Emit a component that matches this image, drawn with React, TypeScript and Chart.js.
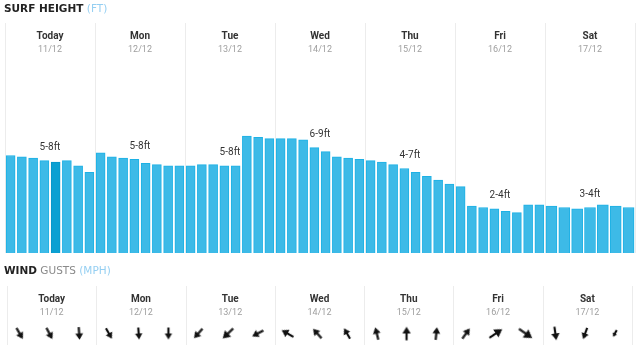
import React, { useEffect, useRef } from "react";
import { Chart, registerables } from "chart.js";

Chart.register(...registerables);

const days = ["Today", "Mon", "Tue", "Wed", "Thu", "Fri", "Sat"];
const dates = ["11/12", "12/12", "13/12", "14/12", "15/12", "16/12", "17/12"];
const rangeLabels = ["5-8ft", "5-8ft", "5-8ft", "6-9ft", "4-7ft", "2-4ft", "3-4ft"];

// surf height (ft), 3-hourly per day
const surfToday = [7.5, 7.4, 7.3, 7.1, 7.0, 7.1, 6.7, 6.2];
const surfMon = [7.7, 7.4, 7.3, 7.2, 6.9, 6.8, 6.7, 6.7];
const surfTue = [6.7, 6.8, 6.8, 6.7, 6.7, 9.0, 8.9, 8.8];
const surfWed = [8.8, 8.8, 8.7, 8.1, 7.8, 7.4, 7.3, 7.2];
const surfThu = [7.1, 7.0, 6.8, 6.5, 6.2, 5.9, 5.6, 5.3];
const surfFri = [5.1, 3.6, 3.5, 3.4, 3.2, 3.1, 3.7, 3.7];
const surfSat = [3.6, 3.5, 3.4, 3.5, 3.7, 3.6, 3.5];
const surfByDay = [surfToday, surfMon, surfTue, surfWed, surfThu, surfFri, surfSat];
const selectedBar = { day: 0, slot: 4 };

// wind: direction the arrow points (deg clockwise from north) and gust (mph), 3 per day
const windDir = [
  150, 152, 176,
  150, 176, 180,
  222, 226, 242,
  300, 318, 330,
  346, 0, 6,
  36, 56, 125,
  172, 200, 208,
];
const windGust = [
  15, 15, 15,
  14, 14, 14,
  15, 17, 15,
  16, 15, 14,
  15, 16, 15,
  15, 18, 19,
  16, 14, 9,
];

const BAR = "#3dbae7";
const BAR_BORDER = "#1db1e5";
const BAR_SEL = "#0ba0d2";
const BAR_SEL_BORDER = "#0896c8";
const SEP = "#ececec";

function makeArrow(len: number): HTMLCanvasElement {
  const size = Math.ceil(len + 4);
  const c = document.createElement("canvas");
  c.width = size;
  c.height = size;
  const g = c.getContext("2d")!;
  const cx = size / 2;
  const cy = size / 2;
  const tip = cy - len / 2;
  const tail = cy + len / 2;
  const headLen = len * 0.5;
  const headW = len * 0.62;
  g.fillStyle = "#111";
  g.beginPath();
  g.moveTo(cx, tip);
  g.lineTo(cx + headW / 2, tip + headLen);
  g.lineTo(cx - headW / 2, tip + headLen);
  g.closePath();
  g.fill();
  g.fillRect(cx - 1.1, tip + headLen - 1, 2.2, tail - (tip + headLen) + 1);
  return c;
}

function headerPlugin(id: string, sepTop: number, nameY: number, dateY: number) {
  return {
    id,
    beforeDatasetsDraw(chart: any) {
      const ctx = chart.ctx;
      const x = chart.scales.x;
      ctx.save();
      ctx.strokeStyle = SEP;
      ctx.lineWidth = 1;
      for (let d = 0; d <= days.length; d++) {
        const px = Math.round(x.getPixelForValue(d)) + 0.5;
        ctx.beginPath();
        ctx.moveTo(px, sepTop);
        ctx.lineTo(px, chart.chartArea.bottom);
        ctx.stroke();
      }
      ctx.textAlign = "center";
      ctx.textBaseline = "middle";
      for (let d = 0; d < days.length; d++) {
        const cx = x.getPixelForValue(d + 0.5);
        ctx.fillStyle = "#333";
        ctx.font = "bold 10px Roboto";
        ctx.fillText(days[d], cx, nameY);
        ctx.fillStyle = "#9e9e9e";
        ctx.font = "9px Roboto";
        ctx.fillText(dates[d], cx, dateY);
      }
      ctx.restore();
    },
  };
}

const rangePlugin = {
  id: "rangeLabels",
  afterDatasetsDraw(chart: any) {
    const ctx = chart.ctx;
    const x = chart.scales.x;
    const y = chart.scales.y;
    ctx.save();
    ctx.fillStyle = "#333";
    ctx.font = "10px Roboto";
    ctx.textAlign = "center";
    ctx.textBaseline = "middle";
    surfByDay.forEach((vals, d) => {
      const n = vals.length;
      const mid = Math.floor(n / 2);
      const v = n % 2 === 0 ? Math.max(vals[mid - 1], vals[mid]) : vals[mid];
      ctx.fillText(rangeLabels[d], x.getPixelForValue(d + 0.5), y.getPixelForValue(v) - 13);
    });
    ctx.restore();
  },
};

function SurfChart() {
  const ref = useRef<HTMLCanvasElement>(null);
  useEffect(() => {
    const weekday: any[] = [];
    const sat: any[] = [];
    surfByDay.forEach((vals, d) => {
      vals.forEach((v, i) => {
        const pt = { x: d + (i + 0.5) / vals.length, y: v, d, i };
        if (vals.length === 8) weekday.push(pt);
        else sat.push(pt);
      });
    });
    const isSel = (c: any) => c.raw && c.raw.d === selectedBar.day && c.raw.i === selectedBar.slot;
    const chart = new Chart(ref.current!, {
      type: "bar",
      data: {
        datasets: [
          {
            data: weekday,
            barThickness: 9,
            grouped: false,
            backgroundColor: (c: any) => (isSel(c) ? BAR_SEL : BAR),
            borderColor: (c: any) => (isSel(c) ? BAR_SEL_BORDER : BAR_BORDER),
            borderWidth: 1,
          } as any,
          {
            data: sat,
            barThickness: 11,
            grouped: false,
            backgroundColor: BAR,
            borderColor: BAR_BORDER,
            borderWidth: 1,
          } as any,
        ],
      },
      options: {
        responsive: false,
        animation: false,
        layout: { padding: { left: 5, right: 4, top: 123, bottom: 5 } },
        plugins: { legend: { display: false }, tooltip: { enabled: false } },
        scales: {
          x: { type: "linear", min: 0, max: 7, offset: false, display: false },
          y: { min: 0, max: 10, display: false },
        },
      },
      plugins: [headerPlugin("surfHeaders", 23, 36.5, 50), rangePlugin],
    });
    return () => chart.destroy();
  }, []);
  return <canvas ref={ref} width={639} height={258} style={{ display: "block" }} />;
}

function WindChart() {
  const ref = useRef<HTMLCanvasElement>(null);
  useEffect(() => {
    const arrows = windGust.map((g) => makeArrow(g * 0.85));
    const pts = windDir.map((_, k) => {
      const d = Math.floor(k / 3);
      const i = k % 3;
      return { x: d + (i + 0.5) / 3 - 0.025, y: 0 };
    });
    const chart = new Chart(ref.current!, {
      type: "scatter",
      data: {
        datasets: [
          {
            data: pts,
            pointStyle: (c: any) => arrows[c.dataIndex],
            rotation: (c: any) => windDir[c.dataIndex],
            radius: 6,
          } as any,
        ],
      },
      options: {
        responsive: false,
        animation: false,
        layout: { padding: { left: 5, right: 4, top: 64, bottom: 0 } },
        plugins: { legend: { display: false }, tooltip: { enabled: false } },
        scales: {
          x: { type: "linear", min: 0, max: 7, offset: false, display: false },
          y: { min: -1, max: 1, display: false },
        },
      },
      plugins: [headerPlugin("windHeaders", 28, 41, 55)],
    });
    return () => chart.destroy();
  }, []);
  return <canvas ref={ref} width={639} height={94} style={{ display: "block" }} />;
}

const titleStyle: React.CSSProperties = {
  position: "absolute",
  left: 4,
  fontFamily: '"DejaVu Sans", sans-serif',
  fontSize: "10.5px",
  lineHeight: "17px",
  whiteSpace: "nowrap",
  color: "#222",
};

export default function App() {
  return (
    <div style={{ position: "fixed", left: 0, top: 0, width: 639, height: 352, background: "#fff", overflow: "hidden" }}>
      <div style={{ position: "absolute", left: 0, top: 0 }}>
        <SurfChart />
      </div>
      <div style={{ position: "absolute", left: 0, top: 258 }}>
        <WindChart />
      </div>
      <div style={{ ...titleStyle, top: 0 }}>
        <span style={{ fontWeight: "bold" }}>SURF HEIGHT</span>{" "}
        <span style={{ color: "#95cff2" }}>(FT)</span>
      </div>
      <div style={{ ...titleStyle, top: 261.5 }}>
        <span style={{ fontWeight: "bold" }}>WIND</span>{" "}
        <span style={{ color: "#8a8a8a" }}>GUSTS</span>{" "}
        <span style={{ color: "#95cff2" }}>(MPH)</span>
      </div>
    </div>
  );
}
